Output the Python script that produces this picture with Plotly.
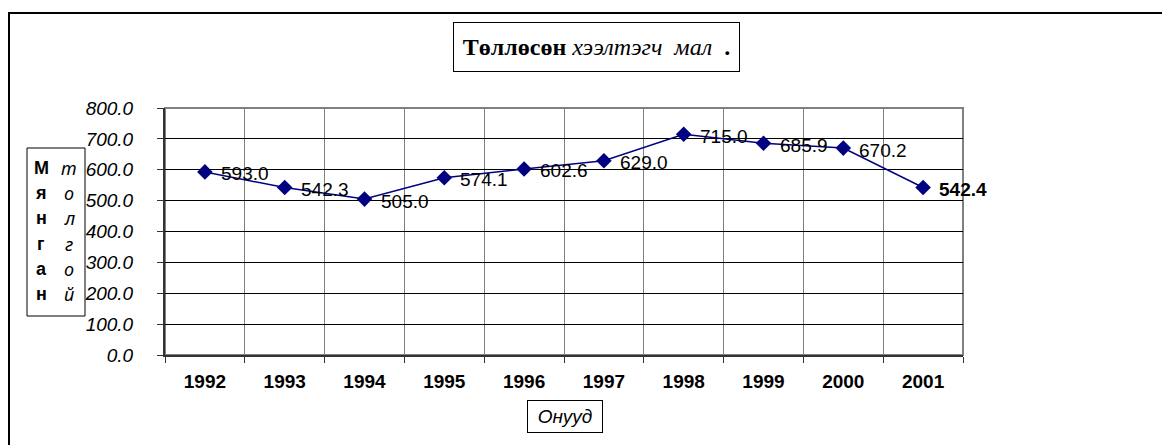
import plotly.graph_objects as go

years = ['1992', '1993', '1994', '1995', '1996', '1997', '1998', '1999', '2000', '2001']
values = [593.0, 542.3, 505.0, 574.1, 602.6, 629.0, 715.0, 685.9, 670.2, 542.4]
y_ticks = [0, 100, 200, 300, 400, 500, 600, 700, 800]
ylab_bold = ['М', 'я', 'н', 'г', 'а', 'н']
ylab_ital = ['т', 'о', 'л', 'г', 'о', 'й']

# page body has an 8px margin, so the figure is a bit smaller than the window
OFF = 8
W, H = 1170 - OFF, 445 - OFF
L, R, T, B = 165, 963, 108, 355   # plot area in window pixels


def px_x(x):
    # window pixel -> paper
    return (x - L) / (R - L)


def px_y(y):
    return (B - y) / (B - T)


fig = go.Figure()
fig.add_trace(go.Scatter(
    x=years, y=values, mode='lines+markers',
    line=dict(color='#000080', width=1.5),
    marker=dict(symbol='diamond', size=12, color='#000080'),
    cliponaxis=False, showlegend=False,
))

shapes = [
    # outer frame, only top/left visible
    dict(type='rect', xref='paper', yref='paper',
         x0=px_x(9), x1=px_x(1190), y0=px_y(470), y1=px_y(13),
         line=dict(color='black', width=2)),
    # plot border
    dict(type='rect', xref='paper', yref='paper', x0=0, x1=1, y0=0, y1=1,
         line=dict(color='#808080', width=2), layer='below'),
    # y title box
    dict(type='rect', xref='paper', yref='paper',
         x0=px_x(27), x1=px_x(85), y0=px_y(316), y1=px_y(148),
         line=dict(color='black', width=1)),
]

box = dict(xref='paper', yref='paper', xanchor='center', yanchor='middle', showarrow=False)
annotations = [
    dict(box, x=px_x(596), y=px_y(47),
         text='<b>Төллөсөн</b> <i>хээлтэгч  мал</i>  <b>.</b>',
         font=dict(family='Liberation Serif', size=24, color='black'),
         bordercolor='black', borderwidth=1,
         width=283, height=46, borderpad=1, bgcolor='white'),
    dict(box, x=px_x(565), y=px_y(416),
         text='<i>Онууд</i>',
         font=dict(family='Arial', size=19, color='black'),
         bordercolor='black', borderwidth=1,
         width=72, height=29, borderpad=1),
]

# data labels to the right of each point
for i, v in enumerate(values):
    txt = '%.1f' % v
    if i == len(values) - 1:
        txt = '<b>%s</b>' % txt
    annotations.append(dict(x=i, y=v, xref='x', yref='y', text=txt,
                            showarrow=False, xanchor='left', yanchor='middle',
                            xshift=14, yshift=-2,
                            font=dict(family='Arial', size=19, color='black')))

for i, (b, it) in enumerate(zip(ylab_bold, ylab_ital)):
    yy = 168 + i * 25.2
    annotations.append(dict(box, x=px_x(41), y=px_y(yy), text='<b>%s</b>' % b,
                            font=dict(family='Arial', size=18, color='black')))
    annotations.append(dict(box, x=px_x(69), y=px_y(yy), text='<i>%s</i>' % it,
                            font=dict(family='Noto Sans', size=18, color='black')))

fig.update_layout(
    width=W, height=H,
    margin=dict(l=L - OFF, r=W - (R - OFF), t=T - OFF, b=H - (B - OFF)),
    plot_bgcolor='white', paper_bgcolor='white',
    shapes=shapes, annotations=annotations,
    xaxis=dict(
        type='category', tickson='boundaries',
        showgrid=True, gridcolor='#808080', gridwidth=1,
        showline=True, linecolor='#333333', linewidth=2,
        ticks='outside', ticklen=6, tickcolor='#333333',
        tickfont=dict(family='Arial', size=19, color='black', weight='bold'),
        ticklabelstandoff=8,
        range=[-0.5, 9.5], zeroline=False,
    ),
    yaxis=dict(
        range=[0, 800], tickvals=y_ticks, tickformat='.1f',
        showgrid=True, gridcolor='black', gridwidth=1,
        showline=True, linecolor='#333333', linewidth=2,
        ticks='outside', ticklen=6, tickcolor='#333333',
        tickfont=dict(family='Arial', size=19, color='black', style='italic'),
        ticklabelstandoff=20, zeroline=False,
    ),
)

fig.write_html('out.html')
